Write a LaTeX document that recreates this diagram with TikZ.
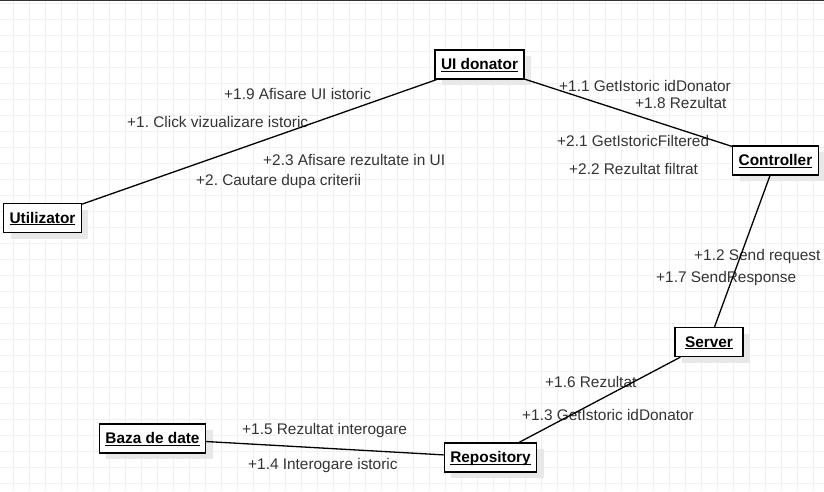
\documentclass[tikz,border=0pt]{standalone}
\usepackage{fontspec}
\setmainfont{Liberation Sans}
\usetikzlibrary{arrows}
\usetikzlibrary{shapes, shadows}
\frenchspacing

\newcommand{\objname}[1]{\underline{\smash{#1}}}

\begin{document}
\begin{tikzpicture}[x=1pt, y=-1pt,
  obj/.style={draw=black, line width=1.3pt, fill=white, inner xsep=6pt, minimum height=29pt,
    text height=12pt, text depth=2pt,
    font=\fontsize{15.4}{18}\selectfont\bfseries,
    drop shadow={shadow xshift=7pt, shadow yshift=-6pt, fill=black!9, opacity=1}},
  msg/.style={anchor=west, inner sep=0pt, text height=12.5pt, text depth=1.5pt, text=black!80,
    font=\fontsize{15.4}{18}\selectfont},
  link/.style={line width=1.3pt}]

\useasboundingbox (0,0) rectangle (824,491);
\foreach \x in {13,29,...,824} \draw[black!6] (\x,0) -- (\x,491);
\foreach \y in {2.7,18.7,...,491} \draw[black!6] (0,\y) -- (824,\y);
\draw[black!80, line width=1.5pt] (0,0.7) -- (824,0.7);

\node[obj] (ui) at (479.5,64.5) {\objname{UI donator}};
\node[obj] (utilizator) at (42.5,218) {\objname{Utilizator}};
\node[obj] (controller) at (775.5,160.5) {\objname{Controller}};
\node[obj, minimum width=68pt] (server) at (709,342) {\objname{Server}};
\node[obj] (repository) at (490.5,457.5) {\objname{Repository}};
\node[obj] (baza) at (152.5,438.5) {\objname{Baza de date}};

\node[msg] (m19) at (224,94) {+1.9 Afisare UI istoric};
\node[msg] (m1) at (127,122) {+1. Click vizualizare istoric};
\node[msg] (m23) at (263,160) {+2.3 Afisare rezultate in UI};
\node[msg] (m2) at (196,180) {+2. Cautare dupa criterii};
\node[msg] (m11) at (559,86) {+1.1 GetIstoric idDonator};
\node[msg] (m18) at (635,103) {+1.8 Rezultat};
\node[msg] (m21) at (557,141) {+2.1 GetIstoricFiltered};
\node[msg] (m22) at (569,169) {+2.2 Rezultat filtrat};
\node[msg] (m12) at (694,255) {+1.2 Send request};
\node[msg] (m17) at (656,277) {+1.7 SendResponse};
\node[msg] (m16) at (545,382) {+1.6 Rezultat};
\node[msg] (m13) at (522,415) {+1.3 GetIstoric idDonator};
\node[msg] (m15) at (242,429) {+1.5 Rezultat interogare};
\node[msg] (m14) at (248,464) {+1.4 Interogare istoric};

\draw[link] (utilizator) to (ui);
\draw[link] (ui) to (controller);
\draw[link] (controller) to (server);
\draw[link] (server) to (repository);
\draw[link] (baza) to (repository);
\end{tikzpicture}
\end{document}
